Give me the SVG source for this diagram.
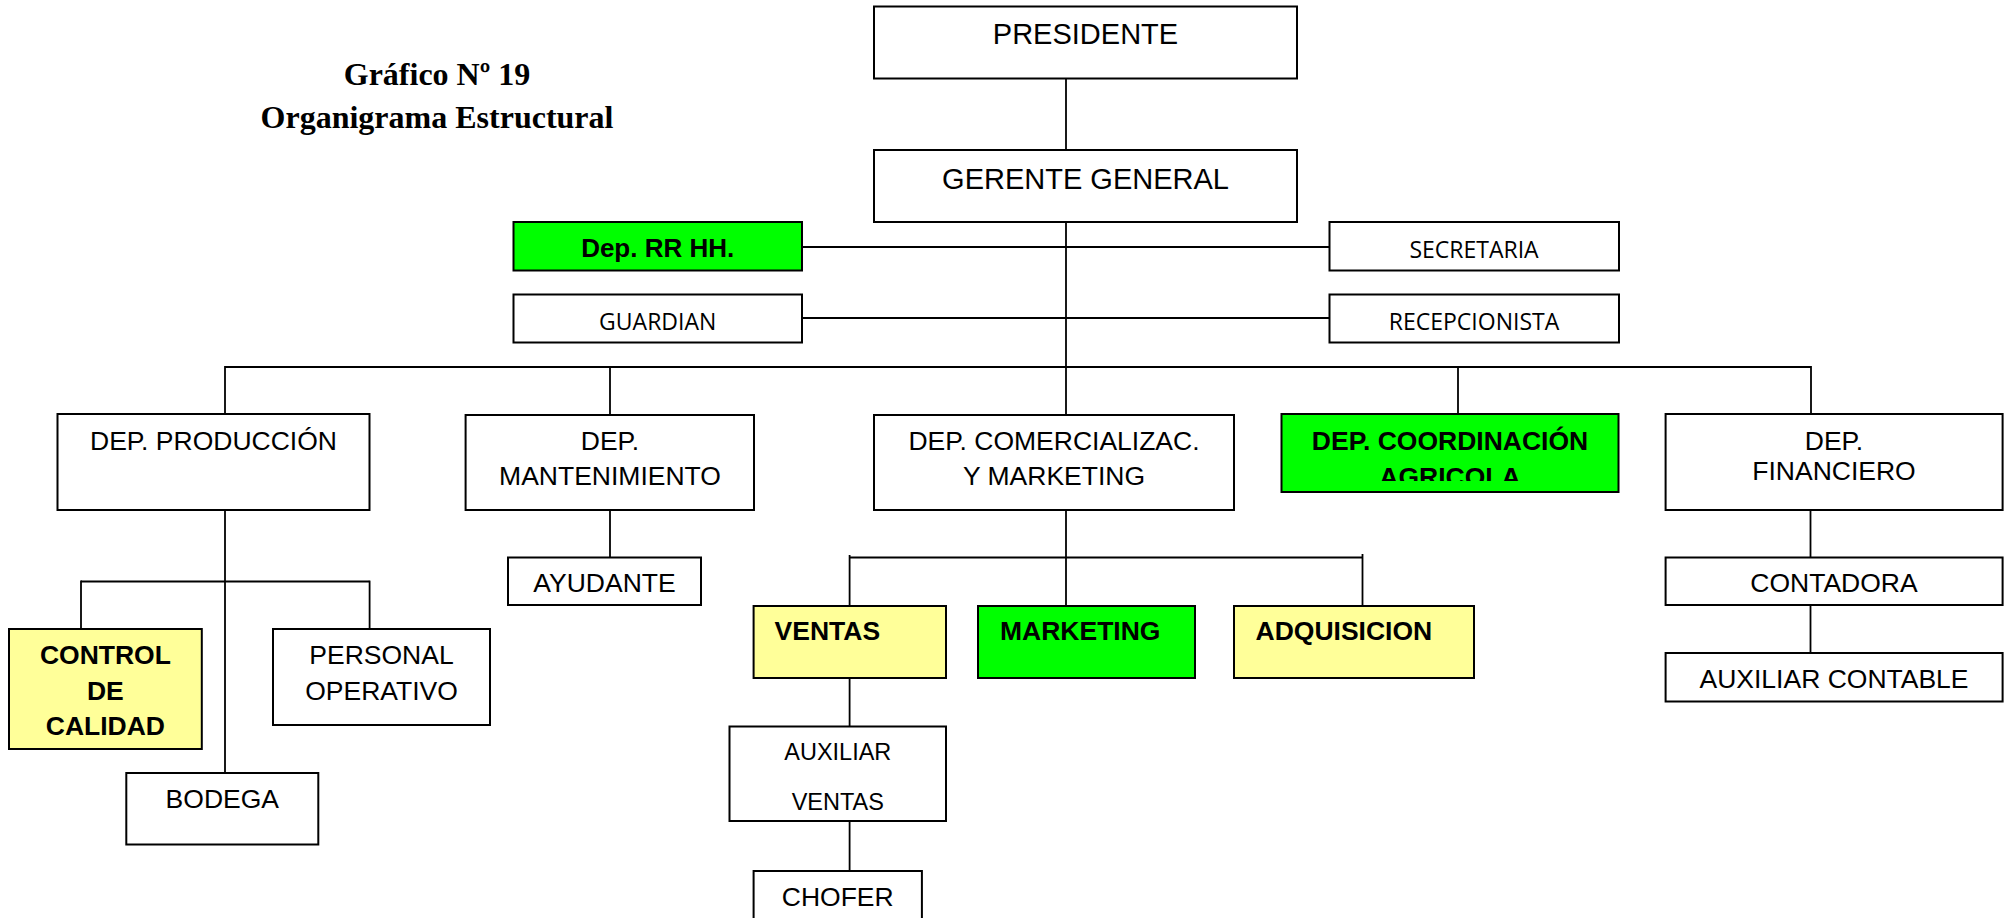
<svg xmlns="http://www.w3.org/2000/svg" width="2009" height="918" viewBox="0 0 2009 918">
<style>
.box{fill:#fff;stroke:#000;stroke-width:2}
.g{fill:#00ff00}
.y{fill:#ffff99}
.ln{stroke:#000;stroke-width:1.8;fill:none}
text{font-family:"Liberation Sans",Arial,sans-serif;fill:#000}
.t{font-size:26.5px;text-anchor:middle}
.tb{font-size:26.5px;font-weight:bold}
.tbc{font-size:26.5px;font-weight:bold;text-anchor:middle}
.c{font-family:"Open Sans","Liberation Sans",sans-serif;font-size:23px;text-anchor:middle}
.ttl{font-family:"Liberation Serif","Times New Roman",serif;font-size:32px;font-weight:bold;text-anchor:middle}
</style>
<defs>
<clipPath id="clipAgr"><rect x="1282" y="415" width="336" height="66"/></clipPath>
</defs>
<rect width="2009" height="918" fill="#fff"/>
<g id="title">
<text class="ttl" x="437" y="85">Gráfico Nº 19</text>
<text class="ttl" x="437" y="128">Organigrama Estructural</text>
</g>
<g id="connectors">
<line class="ln" x1="1066" y1="75" x2="1066" y2="150"/>
<line class="ln" x1="1066" y1="222" x2="1066" y2="415"/>
<line class="ln" x1="802" y1="247" x2="1329.5" y2="247"/>
<line class="ln" x1="802" y1="318" x2="1329.5" y2="318"/>
<line class="ln" x1="225" y1="367" x2="1811" y2="367"/>
<line class="ln" x1="225" y1="366" x2="225" y2="414"/>
<line class="ln" x1="610" y1="366" x2="610" y2="415"/>
<line class="ln" x1="1458" y1="366" x2="1458" y2="414"/>
<line class="ln" x1="1811" y1="366" x2="1811" y2="414"/>
<line class="ln" x1="225" y1="510" x2="225" y2="773"/>
<line class="ln" x1="81" y1="581.5" x2="369.6" y2="581.5"/>
<line class="ln" x1="81" y1="580.6" x2="81" y2="629"/>
<line class="ln" x1="369.6" y1="580.6" x2="369.6" y2="629"/>
<line class="ln" x1="610" y1="510" x2="610" y2="557.5"/>
<line class="ln" x1="1066" y1="510" x2="1066" y2="606"/>
<line class="ln" x1="849.6" y1="557.5" x2="1362.5" y2="557.5"/>
<line class="ln" x1="849.6" y1="555" x2="849.6" y2="606"/>
<line class="ln" x1="1362.5" y1="554" x2="1362.5" y2="606"/>
<line class="ln" x1="849.6" y1="678" x2="849.6" y2="726.5"/>
<line class="ln" x1="849.6" y1="821" x2="849.6" y2="871"/>
<line class="ln" x1="1810.5" y1="510" x2="1810.5" y2="557.5"/>
<line class="ln" x1="1810.5" y1="605" x2="1810.5" y2="653"/>
</g>
<g id="presidente">
<rect class="box" x="874" y="6.5" width="423" height="72"/>
<text style="font-size:29px;text-anchor:middle" x="1085.5" y="44">PRESIDENTE</text>
</g>
<g id="gerente">
<rect class="box" x="874" y="150" width="423" height="72"/>
<text style="font-size:29px;text-anchor:middle" x="1085.5" y="188.5">GERENTE GENERAL</text>
</g>
<g id="rrhh">
<rect class="box g" x="513.5" y="222" width="288.5" height="48.5"/>
<text class="tbc" style="font-size:26px" x="657.7" y="257">Dep. RR HH.</text>
</g>
<g id="secretaria">
<rect class="box" x="1329.5" y="222" width="289.5" height="48.5"/>
<text class="c" x="1474" y="258">SECRETARIA</text>
</g>
<g id="guardian">
<rect class="box" x="513.5" y="294.5" width="288.5" height="48"/>
<text class="c" x="657.7" y="330">GUARDIAN</text>
</g>
<g id="recepcionista">
<rect class="box" x="1329.5" y="294.5" width="289.5" height="48"/>
<text class="c" x="1474" y="330">RECEPCIONISTA</text>
</g>
<g id="produccion">
<rect class="box" x="57.5" y="414" width="312" height="96"/>
<text class="t" x="213.5" y="450">DEP. PRODUCCIÓN</text>
</g>
<g id="mantenimiento">
<rect class="box" x="465.6" y="415" width="288.4" height="95"/>
<text class="t" x="610" y="450">DEP.</text>
<text class="t" x="610" y="485">MANTENIMIENTO</text>
</g>
<g id="comercializacion">
<rect class="box" x="874" y="415" width="360" height="95"/>
<text class="t" x="1054" y="450">DEP. COMERCIALIZAC.</text>
<text class="t" x="1054" y="485">Y MARKETING</text>
</g>
<g id="coordinacion">
<rect class="box g" x="1281.5" y="414" width="337" height="78"/>
<text class="tbc" x="1450" y="449.5">DEP. COORDINACIÓN</text>
<text class="tbc" x="1450" y="485.5" clip-path="url(#clipAgr)">AGRICOLA</text>
</g>
<g id="financiero">
<rect class="box" x="1665.6" y="414" width="337" height="96"/>
<text class="t" x="1834" y="450">DEP.</text>
<text class="t" x="1834" y="479.5">FINANCIERO</text>
</g>
<g id="control">
<rect class="box y" x="9" y="629" width="192.8" height="120"/>
<text class="tbc" x="105.4" y="664">CONTROL</text>
<text class="tbc" x="105.4" y="700">DE</text>
<text class="tbc" x="105.4" y="735">CALIDAD</text>
</g>
<g id="personal">
<rect class="box" x="273" y="629" width="217" height="96"/>
<text class="t" x="381.5" y="664">PERSONAL</text>
<text class="t" x="381.5" y="700">OPERATIVO</text>
</g>
<g id="bodega">
<rect class="box" x="126.3" y="773" width="192" height="71.5"/>
<text class="t" x="222.3" y="808">BODEGA</text>
</g>
<g id="ayudante">
<rect class="box" x="508" y="557.5" width="193" height="47.5"/>
<text class="t" x="604.5" y="592">AYUDANTE</text>
</g>
<g id="ventas">
<rect class="box y" x="753.6" y="606" width="192.4" height="72"/>
<text class="tb" x="774.6" y="640">VENTAS</text>
</g>
<g id="marketing">
<rect class="box g" x="978" y="606" width="217" height="72"/>
<text class="tb" x="1000" y="640">MARKETING</text>
</g>
<g id="adquisicion">
<rect class="box y" x="1234" y="606" width="240" height="72"/>
<text class="tb" x="1255.5" y="640">ADQUISICION</text>
</g>
<g id="auxiliar-ventas">
<rect class="box" x="729.5" y="726.5" width="216.5" height="94.5"/>
<text class="t" style="font-size:23.5px" x="837.8" y="760">AUXILIAR</text>
<text class="t" style="font-size:23.5px" x="837.8" y="810">VENTAS</text>
</g>
<g id="chofer">
<rect class="box" x="753.6" y="871" width="168.3" height="60"/>
<text class="t" x="837.7" y="906">CHOFER</text>
</g>
<g id="contadora">
<rect class="box" x="1665.6" y="557.5" width="337" height="47.5"/>
<text class="t" x="1834" y="592">CONTADORA</text>
</g>
<g id="auxiliar-contable">
<rect class="box" x="1665.6" y="653" width="337" height="48.5"/>
<text class="t" x="1834" y="688">AUXILIAR CONTABLE</text>
</g>
</svg>
